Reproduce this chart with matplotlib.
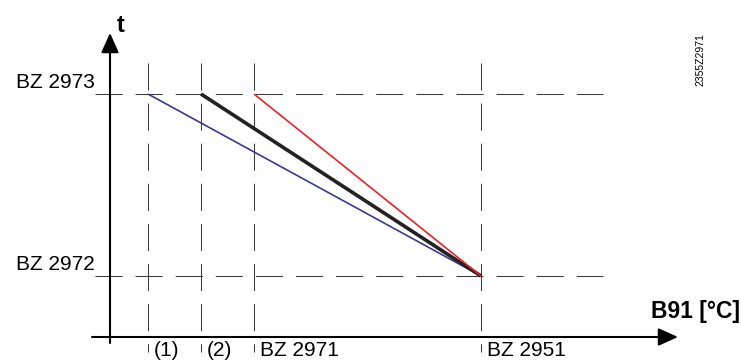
import matplotlib.pyplot as plt

plt.rcParams['font.family'] = ['Liberation Sans', 'DejaVu Sans']

# positions (origin at axis crossing, 1 unit = 1 px)
x_limits = [38, 91, 144]          # (1), (2), BZ 2971
x_bz2951 = 371
t_bz2973 = 243
t_bz2972 = 61
x_labels = ['(1)', '(2)', 'BZ 2971', 'BZ 2951']
y_labels = ['BZ 2973', 'BZ 2972']
line_colors = ['#3b3892', '#222222', '#e8212a']
line_widths = [1.2, 2.6, 1.2]

fig = plt.figure(figsize=(7.41, 3.63), dpi=100)
ax = fig.add_axes([0, 0, 1, 1])
ax.set_xlim(-110, 631)
ax.set_ylim(-26, 337)
ax.axis('off')

dash = (0, (26, 12.5))
grey = '#3a3a3a'
# horizontal dashed guides
for t in [t_bz2973, t_bz2972]:
    ax.plot([-15, 493], [t, t], color=grey, lw=0.75, linestyle=dash)
# vertical dashed guides
for x in x_limits + [x_bz2951]:
    ax.plot([x, x], [274, -15], color=grey, lw=0.75, linestyle=dash)

# characteristic lines
for x0, c, w in zip(x_limits, line_colors, line_widths):
    ax.plot([x0, x_bz2951], [t_bz2973, t_bz2972], color=c, lw=w,
            solid_capstyle='butt')

# axes with arrows
ax.annotate('', xy=(568, 0), xytext=(-18, 0),
            arrowprops=dict(arrowstyle='-|>,head_length=1.0,head_width=0.45',
                            color='black', lw=1.5, mutation_scale=12,
                            shrinkA=0, shrinkB=0))
ax.annotate('', xy=(0, 304), xytext=(0, -6),
            arrowprops=dict(arrowstyle='-|>,head_length=1.0,head_width=0.45',
                            color='black', lw=1.5, mutation_scale=12,
                            shrinkA=0, shrinkB=0))

# labels
for t, lab in zip([t_bz2973, t_bz2972], y_labels):
    ax.text(-15, t + 6, lab, ha='right', va='baseline', fontsize=15)
for x, lab in zip(x_limits + [x_bz2951], x_labels):
    ax.text(x + 6, -4, lab, ha='left', va='top', fontsize=15)

ax.text(630, 19, 'B91 [°C]', ha='right', va='baseline', fontsize=16.5,
        fontweight='bold')
ax.text(7, 305, 't', ha='left', va='baseline', fontsize=17, fontweight='bold')
ax.text(590, 277, '2355Z2971', rotation=90, ha='center', va='center',
        fontsize=7.5)

fig.savefig('out.png', dpi=100)
